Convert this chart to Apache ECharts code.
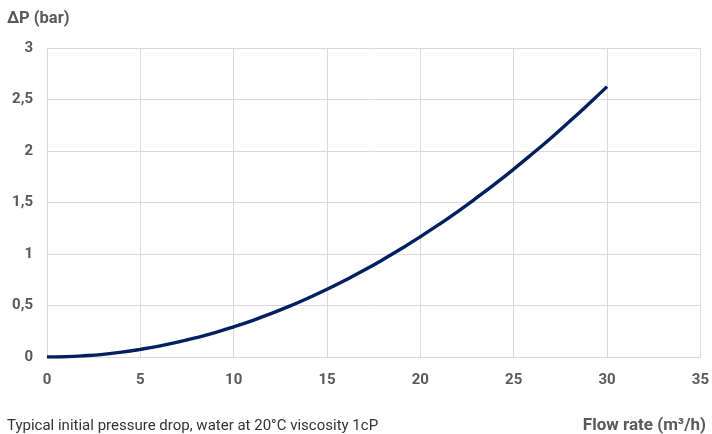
<!DOCTYPE html>
<html><head><meta charset="utf-8">
<script src="https://cdn.jsdelivr.net/npm/echarts@6/dist/echarts.min.js"></script>
<style>html,body{margin:0;padding:0;background:#fff}#c{width:712px;height:434px}</style>
</head><body><div id="c"></div>
<script>
const flowRates = [0,1,2,3,4,5,6,7,8,9,10,11,12,13,14,15,16,17,18,19,20,21,22,23,24,25,26,27,28,29,30];
const pressureDrop = [0,0.003,0.012,0.026,0.047,0.074,0.106,0.144,0.188,0.237,0.293,0.354,0.421,0.494,0.573,0.657,0.748,0.844,0.946,1.054,1.168,1.287,1.412,1.544,1.681,1.824,1.973,2.127,2.288,2.454,2.625];
const yAxisTitle = 'ΔP (bar)';
const xAxisTitle = 'Flow rate (m³/h)';
const noteText = 'Typical initial pressure drop, water at 20°C viscosity 1cP';

const chart = echarts.init(document.getElementById('c'), null, {renderer:'canvas'});
const fontFam = 'Roboto, "Liberation Sans", sans-serif';
chart.setOption({
  animation:false,
  grid:{left:47,right:11,top:48,bottom:77,containLabel:false},
  xAxis:{type:'value',min:0,max:35,interval:5,
    axisLine:{show:true,lineStyle:{color:'#d9d9d9',width:1}},
    axisTick:{show:false},
    splitLine:{show:true,lineStyle:{color:'#d9d9d9',width:1}},
    axisLabel:{color:'#595959',fontWeight:'bold',fontSize:15,fontFamily:fontFam,margin:16}},
  yAxis:{type:'value',min:0,max:3,interval:0.5,
    axisLine:{show:false},axisTick:{show:false},
    splitLine:{show:true,lineStyle:{color:'#d9d9d9',width:1}},
    axisLabel:{color:'#595959',fontWeight:'bold',fontSize:15,fontFamily:fontFam,margin:14,
      formatter:v=>String(v).replace('.',',')}},
  graphic:[
    {type:'text',left:7,top:10,style:{text:yAxisTitle,fill:'#595959',font:'bold 16.5px '+fontFam}},
    {type:'text',left:7,top:419,style:{text:noteText,fill:'#333333',font:'15px '+fontFam}},
    {type:'text',right:6,top:417,style:{text:xAxisTitle,fill:'#595959',font:'bold 17px '+fontFam}}
  ],
  series:[{type:'line',data:flowRates.map((x,i)=>[x,pressureDrop[i]]),smooth:true,showSymbol:false,
    lineStyle:{color:'#002060',width:3.4},itemStyle:{color:'#002060'}}]
});
</script></body></html>
